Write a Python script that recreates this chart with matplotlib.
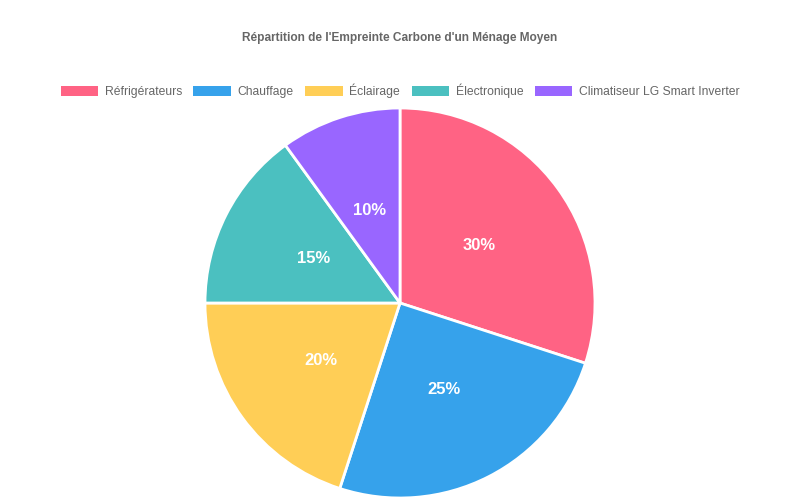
import matplotlib.pyplot as plt

plt.rcParams['font.family'] = ['Liberation Sans', 'DejaVu Sans']

labels = ['Réfrigérateurs', 'Chauffage', 'Éclairage', 'Électronique', 'Climatiseur LG Smart Inverter']
values = [30, 25, 20, 15, 10]
colors = ['#FF6384', '#36A2EB', '#FFCE56', '#4BC0C0', '#9966FF']

fig = plt.figure(figsize=(8, 5), dpi=100)
ax = fig.add_axes([0, 0, 1, 1])
ax.set_aspect('equal')
ax.axis('off')

wedges, texts, autotexts = ax.pie(
    values, colors=colors, startangle=90, counterclock=False,
    center=(400, 197), radius=195, autopct='%1.0f%%', pctdistance=0.5,
    wedgeprops=dict(edgecolor='white', linewidth=2),
    textprops=dict(color='white', fontsize=12, fontweight='bold'))
ax.set_xlim(0, 800)
ax.set_ylim(0, 500)

fig.text(0.5, 1 - 38 / 500, "Répartition de l'Empreinte Carbone d'un Ménage Moyen",
         ha='center', va='center', fontsize=8.6, fontweight='bold', color='#666666')

leg = fig.legend(wedges, labels, loc='center', bbox_to_anchor=(0.5, 1 - 91 / 500),
                 ncol=5, frameon=False, fontsize=8.7, handlelength=3.1, handleheight=0.8,
                 handletextpad=0.55, columnspacing=0.95, labelcolor='#666666')
for h in leg.legend_handles:
    h.set_linewidth(0)

fig.savefig('out.png', dpi=100)
